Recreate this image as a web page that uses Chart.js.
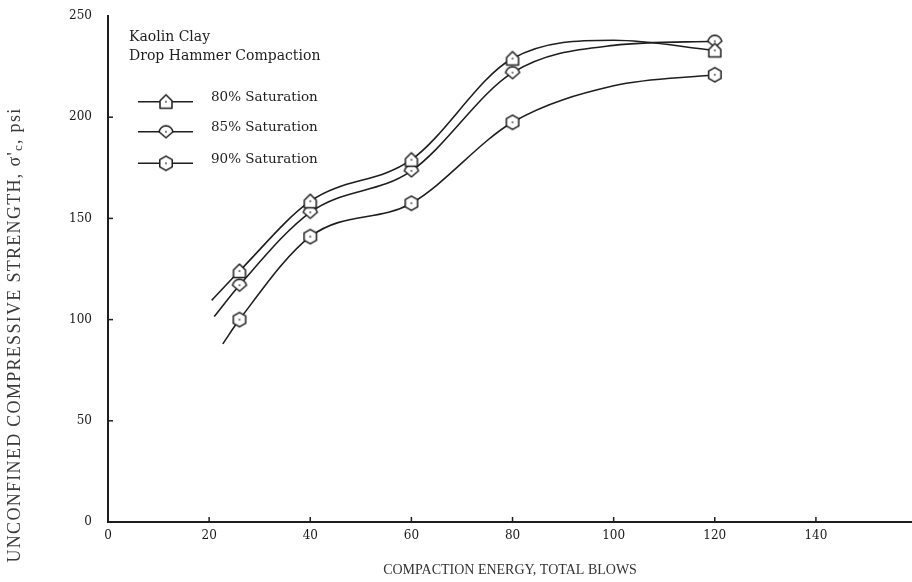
<!DOCTYPE html>
<html><head><meta charset="utf-8">
<script src="https://cdn.jsdelivr.net/npm/chart.js@4.4.0/dist/chart.umd.min.js"></script>
<style>html,body{margin:0;padding:0;background:#fff;} #wrap{width:912px;height:582px;position:relative;}</style>
</head><body><div id="wrap"><canvas id="c" width="912" height="582"></canvas></div>
<script>
// ---- data ----
const xBlows = [26, 40, 60, 80, 120];
const sat80 = [124, 158.5, 179, 229, 233];
const sat85 = [117, 153, 173.5, 222, 237.5];
const sat90 = [100, 141, 157.5, 197.5, 221];
// hand-drawn smooth curves (including their free ends)
const curve80X = [20.5, 26, 40, 60, 80, 100, 120];
const curve80Y = [109.5, 124, 158.5, 179, 229, 238, 233];
const curve85X = [21, 26, 40, 60, 80, 100, 120];
const curve85Y = [101.5, 117, 153, 173.5, 222, 235.5, 237.5];
const curve90X = [22.7, 26, 40, 60, 80, 100, 120];
const curve90Y = [88, 100, 141, 157.5, 197.5, 215.5, 221];
const xTickValues = [0, 20, 40, 60, 80, 100, 120, 140];
const yTickValues = [0, 50, 100, 150, 200, 250];
const seriesNames = ['80% Saturation', '85% Saturation', '90% Saturation'];
const noteLines = ['Kaolin Clay', 'Drop Hammer Compaction'];
const xTitle = 'COMPACTION ENERGY, TOTAL BLOWS';
const yTitleParts = ["UNCONFINED COMPRESSIVE STRENGTH, \u03c3'", 'c', ', psi'];

const INK = '#1e1e1e';
function makeMarker(kind) {
  const s = 20, c = document.createElement('canvas');
  c.width = s; c.height = s;
  const g = c.getContext('2d');
  g.translate(s / 2, s / 2);
  g.beginPath();
  if (kind === 'house') {
    g.moveTo(-6, 6.5); g.lineTo(6, 6.5); g.lineTo(6, -1);
    g.lineTo(0, -7); g.lineTo(-6, -1); g.closePath();
  } else if (kind === 'diamond') {
    g.moveTo(-7, 0); g.quadraticCurveTo(-5.5, -5.5, 0, -6); g.quadraticCurveTo(5.5, -5.5, 7, 0);
    g.lineTo(0, 6); g.closePath();
  } else {
    for (let i = 0; i < 6; i++) {
      const a = Math.PI / 2 + i * Math.PI / 3;
      const px = 7.2 * Math.cos(a), py = 7.2 * Math.sin(a);
      if (i === 0) g.moveTo(px, py); else g.lineTo(px, py);
    }
    g.closePath();
  }
  g.fillStyle = '#fff'; g.fill();
  g.lineWidth = 1.5; g.strokeStyle = INK; g.lineJoin = 'round'; g.stroke();
  g.beginPath(); g.arc(0, 0, 0.9, 0, Math.PI * 2); g.fillStyle = '#444'; g.fill();
  return c;
}
const markers = [makeMarker('house'), makeMarker('diamond'), makeMarker('hex')];

const pts = (xs, ys) => xs.map((x, i) => ({ x, y: ys[i] }));
const curveDs = (xs, ys) => ({
  data: pts(xs, ys), showLine: true, borderColor: INK, borderWidth: 1.6,
  pointRadius: 0, cubicInterpolationMode: 'monotone', order: 2, fill: false, clip: false
});
const markDs = (ys, m) => ({
  data: pts(xBlows, ys), showLine: false, pointStyle: m, pointRadius: 7, order: 1, clip: false
});

const tickFont = { family: 'DejaVu Serif', size: 12 };

const decorPlugin = {
  id: 'decor',
  afterDraw(chart) {
    const ctx = chart.ctx, xs = chart.scales.x, ys = chart.scales.y;
    ctx.save();
    // inward tick marks
    ctx.strokeStyle = INK; ctx.lineWidth = 1.5;
    xTickValues.filter(v => v !== 0).forEach(v => {
      const px = xs.getPixelForValue(v);
      ctx.beginPath(); ctx.moveTo(px, xs.top); ctx.lineTo(px, xs.top - 5); ctx.stroke();
    });
    yTickValues.filter(v => v !== 0 && v !== 250).forEach(v => {
      const py = ys.getPixelForValue(v);
      ctx.beginPath(); ctx.moveTo(ys.right, py); ctx.lineTo(ys.right + 5, py); ctx.stroke();
    });
    // note + legend
    ctx.fillStyle = INK; ctx.textBaseline = 'middle'; ctx.textAlign = 'left';
    ctx.font = '14px "DejaVu Serif"';
    ctx.fillText(noteLines[0], 129, 37);
    ctx.fillText(noteLines[1], 129, 56);
    ctx.font = '13.5px "DejaVu Serif"';
    const ly = [101.7, 131.7, 163.3];
    seriesNames.forEach((name, i) => {
      ctx.beginPath(); ctx.lineWidth = 1.5; ctx.moveTo(138, ly[i]); ctx.lineTo(193, ly[i]); ctx.stroke();
      ctx.drawImage(markers[i], 166 - 10, ly[i] - 10);
      ctx.fillText(name, 211, ly[i] - 4);
    });
    // y axis title (with subscript c)
    ctx.translate(15, 335); ctx.rotate(-Math.PI / 2);
    if ('letterSpacing' in ctx) ctx.letterSpacing = '1.3px';
    const big = '18px "Liberation Serif"', small = '13px "Liberation Serif"';
    ctx.font = big; const w0 = ctx.measureText(yTitleParts[0]).width, w2 = ctx.measureText(yTitleParts[2]).width;
    ctx.font = small; const w1 = ctx.measureText(yTitleParts[1]).width;
    let x0 = -(w0 + w1 + w2) / 2;
    ctx.fillStyle = '#3a3a3a';
    ctx.font = big; ctx.fillText(yTitleParts[0], x0, 0); x0 += w0;
    ctx.font = small; ctx.fillText(yTitleParts[1], x0, 4); x0 += w1;
    ctx.font = big; ctx.fillText(yTitleParts[2], x0, 0);
    ctx.restore();
  }
};

new Chart(document.getElementById('c'), {
  type: 'scatter',
  data: {
    datasets: [
      curveDs(curve80X, curve80Y), curveDs(curve85X, curve85Y), curveDs(curve90X, curve90Y),
      markDs(sat80, markers[0]), markDs(sat85, markers[1]), markDs(sat90, markers[2])
    ]
  },
  options: {
    responsive: false, animation: false, events: [],
    layout: { autoPadding: false, padding: { top: 16, right: 0, left: 0, bottom: 0 } },
    plugins: { legend: { display: false }, tooltip: { enabled: false } },
    scales: {
      x: {
        type: 'linear', min: 0, max: 159,
        afterBuildTicks: s => { s.ticks = xTickValues.map(v => ({ value: v })); },
        afterFit: s => { s.height = 60; s.paddingLeft = 0; s.paddingRight = 0; },
        grid: { display: false, drawTicks: false },
        border: { display: true, color: INK, width: 2 },
        ticks: { font: tickFont, color: '#1a1a1a', padding: 7, maxRotation: 0, autoSkip: false },
        title: { display: true, text: xTitle, color: '#333', font: { family: 'Liberation Serif', size: 14 }, padding: { top: 0, bottom: 3 } }
      },
      y: {
        type: 'linear', min: 0, max: 250,
        afterBuildTicks: s => { s.ticks = yTickValues.map(v => ({ value: v })); },
        afterFit: s => { s.width = 108; s.paddingTop = 0; s.paddingBottom = 0; },
        grid: { display: false, drawTicks: false },
        border: { display: true, color: INK, width: 2 },
        ticks: { font: tickFont, color: '#1a1a1a', padding: 16, autoSkip: false }
      }
    }
  },
  plugins: [decorPlugin]
});
</script>
</body></html>
